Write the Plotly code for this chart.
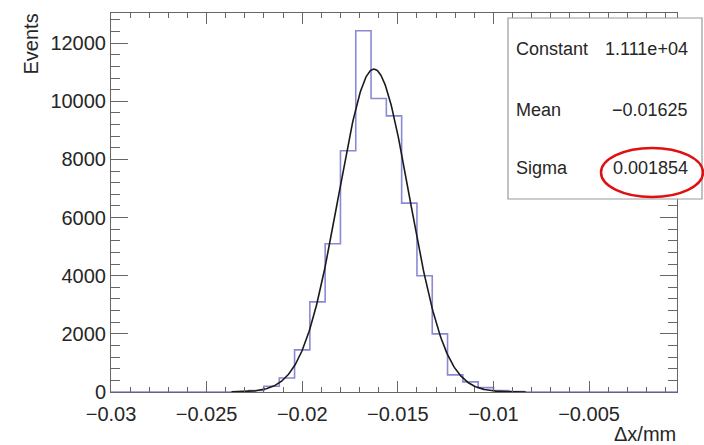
import numpy as np
import plotly.graph_objects as go

# ---- data ----
bin_start = -0.03
bin_width = 0.0008
counts = [0, 0, 0, 0, 0, 0, 0, 0, 10, 50, 200, 480, 1450, 3100, 5100, 8300,
          12430, 10100, 9500, 6500, 4000, 2000, 590, 350, 150, 50, 15,
          0, 0, 0, 0, 0, 0, 0, 0, 0, 0]
fit_constant = 1.111e4
fit_mean = -0.01625
fit_sigma = 0.001854
fit_range = [-0.0237, -0.0083]
stat_names = ["Constant", "Mean", "Sigma"]
stat_values = ["1.111e+04", "\u22120.01625", "0.001854"]
x_title = "\u0394x/mm"
y_title = "Events"

edges = bin_start + bin_width * np.arange(len(counts) + 1)
hist_y = list(counts) + [counts[-1]]

fx = np.linspace(fit_range[0], fit_range[1], 400)
fy = fit_constant * np.exp(-0.5 * ((fx - fit_mean) / fit_sigma) ** 2)

FONT = "Liberation Sans, Arial, Helvetica, sans-serif"
TXT = "#262626"
AX = "#666666"

fig = go.Figure()
fig.add_trace(go.Scatter(x=edges, y=hist_y, mode="lines", line_shape="hv",
                         line=dict(color="#8a8ad4", width=1.6), hoverinfo="skip"))
fig.add_trace(go.Scatter(x=fx, y=fy, mode="lines",
                         line=dict(color="#1a1a1a", width=1.6), hoverinfo="skip"))

W, H = 704, 445
L, R, T, B = 111, 27, 13, 53
pw = W - L - R
ph = H - T - B


def px(xp):
    return (xp - L) / pw


def py(yp):
    return (H - B - yp) / ph


fig.update_layout(
    width=W, height=H, autosize=False,
    margin=dict(l=L, r=R, t=T, b=B, pad=0),
    paper_bgcolor="white", plot_bgcolor="white",
    showlegend=False,
    font=dict(family=FONT, size=20, color=TXT),
    xaxis=dict(range=[bin_start, bin_start + bin_width * len(counts)],
               tick0=-0.03, dtick=0.005, ticks="inside", ticklen=11, tickwidth=1,
               tickcolor=AX, showline=True, linecolor=AX, linewidth=1,
               mirror="allticks", showgrid=False, zeroline=False,
               ticklabelstandoff=4,
               tickfont=dict(size=20, color=TXT),
               minor=dict(dtick=0.001, ticks="inside", ticklen=5, tickcolor=AX, showgrid=False)),
    yaxis=dict(range=[0, 13040], tick0=0, dtick=2000, tickformat="d",
               ticks="inside", ticklen=17, tickwidth=1, tickcolor=AX,
               showline=True, linecolor=AX, linewidth=1, mirror="allticks",
               showgrid=False, zeroline=False,
               tickfont=dict(size=20, color=TXT),
               minor=dict(dtick=400, ticks="inside", ticklen=9, tickcolor=AX, showgrid=False)),
)

shapes = [
    dict(type="rect", xref="paper", yref="paper", layer="above",
         x0=px(508), x1=px(702), y0=py(199), y1=py(18),
         fillcolor="white", line=dict(color="#9a9a9a", width=1.2)),
    dict(type="circle", xref="paper", yref="paper", layer="above",
         x0=px(601), x1=px(703), y0=py(197), y1=py(148),
         line=dict(color="#e01010", width=2.5)),
]
fig.update_layout(shapes=shapes)

ann = []
ys = [49, 110, 168]
for name, val, yy in zip(stat_names, stat_values, ys):
    ann.append(dict(text=name, xref="paper", yref="paper", x=px(514), y=py(yy),
                    xanchor="left", yanchor="middle", showarrow=False,
                    font=dict(size=18, color=TXT, family=FONT)))
    ann.append(dict(text=val, xref="paper", yref="paper", x=px(690), y=py(yy),
                    xanchor="right", yanchor="middle", showarrow=False,
                    font=dict(size=18, color=TXT, family=FONT)))
ann.append(dict(text=y_title, xref="paper", yref="paper", x=px(30), y=py(12),
                xanchor="center", yanchor="top", textangle=-90, showarrow=False,
                font=dict(size=20, color=TXT, family=FONT)))
ann.append(dict(text=x_title, xref="paper", yref="paper", x=px(678), y=py(434),
                xanchor="right", yanchor="middle", showarrow=False,
                font=dict(size=20, color=TXT, family=FONT)))
fig.update_layout(annotations=ann)

fig.write_html("out.html", config={"displayModeBar": False},
               post_script="document.body.style.margin='0';document.body.style.overflow='hidden';")
